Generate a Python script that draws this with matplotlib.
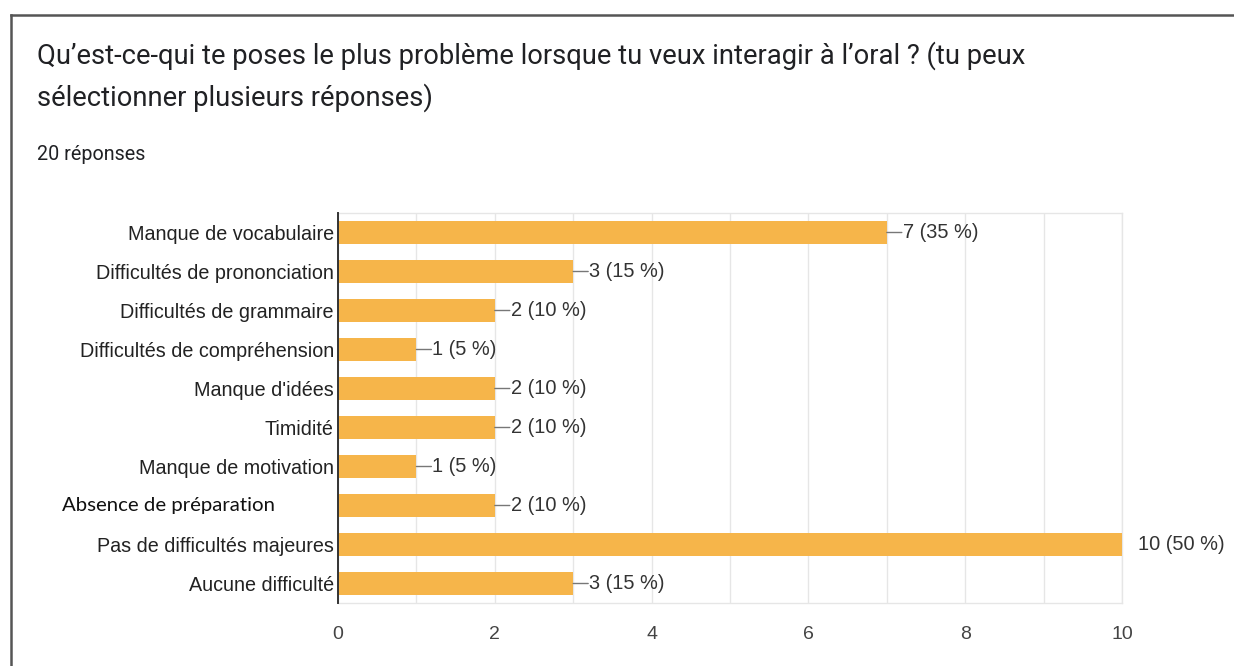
import matplotlib
matplotlib.use("Agg")
import matplotlib.pyplot as plt
from matplotlib.lines import Line2D

categories = [
    "Manque de vocabulaire",
    "Difficultés de prononciation",
    "Difficultés de grammaire",
    "Difficultés de compréhension",
    "Manque d'idées",
    "Timidité",
    "Manque de motivation",
    "Absence de préparation",
    "Pas de difficultés majeures",
    "Aucune difficulté",
]
counts = [7, 3, 2, 1, 2, 2, 1, 2, 10, 3]
percents = [35, 15, 10, 5, 10, 10, 5, 10, 50, 15]
xticks = [0, 2, 4, 6, 8, 10]

title_lines = [
    "Qu’est-ce-qui te poses le plus problème lorsque tu veux interagir à l’oral ? (tu peux",
    "sélectionner plusieurs réponses)",
]
subtitle = "20 réponses"

W, H = 1234, 666
fig = plt.figure(figsize=(W / 100, H / 100), dpi=100)
fig.patch.set_facecolor("white")

# outer frame (left and top)
fig.add_artist(Line2D([11 / W, 11 / W], [0, 1 - 15 / H], color="#555555", lw=1.8, transform=fig.transFigure))
fig.add_artist(Line2D([11 / W, 1], [1 - 15 / H, 1 - 15 / H], color="#555555", lw=1.8, transform=fig.transFigure))

for line, base in zip(title_lines, [64, 106]):
    fig.text(37 / W, 1 - base / H, line, fontsize=19.7, family="Roboto", color="#202124",
             ha="left", va="baseline")
fig.text(37 / W, 1 - 160 / H, subtitle, fontsize=14.2, family="Roboto", color="#202124",
         ha="left", va="baseline")

ax = fig.add_axes([338 / W, 63 / H, (1122 - 338) / W, (603 - 213) / H])
y = list(range(len(categories)))
bar_color = "#F6B54A"
ax.barh(y, counts, height=0.6, color=bar_color, zorder=3)
ax.set_ylim(len(categories) - 0.5, -0.5)
ax.set_xlim(0, 10)

# gridlines every unit
ax.set_xticks(xticks)
ax.set_xticks(range(0, 11), minor=True)
ax.grid(True, axis="x", which="both", color="#e6e6e6", lw=1, zorder=0)
ax.tick_params(axis="x", which="both", length=0, pad=16.5, labelsize=14, labelcolor="#444444")
for lab in ax.get_xticklabels():
    lab.set_family("Liberation Sans")
ax.set_yticks(y)
labels = [c if i != 7 else "" for i, c in enumerate(categories)]
ax.set_yticklabels(labels, family="Liberation Sans", fontsize=14.2, color="#222222")
ax.tick_params(axis="y", length=0, pad=3)

for s in ["top", "right", "bottom"]:
    ax.spines[s].set_color("#e6e6e6")
    ax.spines[s].set_linewidth(1)
ax.spines["left"].set_color("#333333")
ax.spines["left"].set_linewidth(1.4)
ax.spines["left"].set_zorder(4)

# special label with different font (pasted text box in the original)
ax.annotate(categories[7], xy=(62 / W, 7), xycoords=("figure fraction", "data"),
            ha="left", va="center", family="Lato", fontsize=14.7, color="#111111")

# value labels with leader lines
for i, (c, p) in enumerate(zip(counts, percents)):
    txt = f"{c} ({p} %)"
    if c < 10:
        ax.annotate("", xy=(c, i), xytext=(15, 0), textcoords="offset pixels",
                    arrowprops=dict(arrowstyle="-", color="#777777", lw=1, shrinkA=0, shrinkB=0),
                    annotation_clip=False)
    ax.annotate(txt, xy=(c, i), xytext=(16, 0), textcoords="offset pixels",
                ha="left", va="center", family="Liberation Sans", fontsize=14.4,
                color="#333333", annotation_clip=False)

fig.savefig("out.png", dpi=100, facecolor="white")
